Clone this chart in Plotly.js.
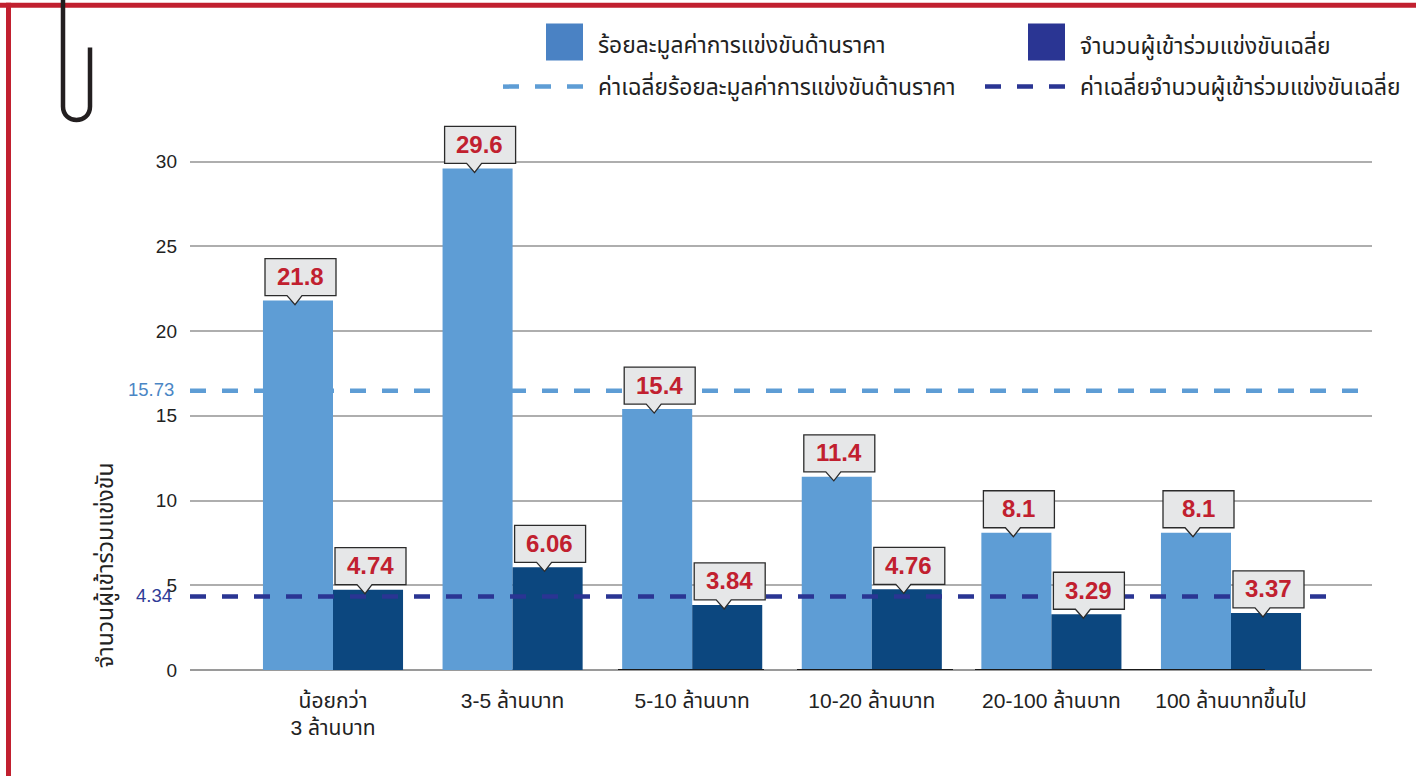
<!DOCTYPE html>
<html><head><meta charset="utf-8">
<script src="https://cdn.plot.ly/plotly-3.0.0.min.js"></script>
<style>html,body{margin:0;padding:0;background:#fff;overflow:hidden}#c{width:1416px;height:776px}</style>
</head><body><div id="c"></div>
<script>
const categories = ['น้อยกว่า<br>3 ล้านบาท','3-5 ล้านบาท','5-10 ล้านบาท','10-20 ล้านบาท','20-100 ล้านบาท','100 ล้านบาทขึ้นไป'];
const pricePct = [21.8,29.6,15.4,11.4,8.1,8.1];
const bidders = [4.74,6.06,3.84,4.76,3.29,3.37];
const yTicks = [0,5,10,15,20,25,30];
const avgPriceLabel = '15.73';
const avgPriceDrawn = 16.48;
const avgBidders = 4.34;
const seriesNames = ['ร้อยละมูลค่าการแข่งขันด้านราคา','จำนวนผู้เข้าร่วมแข่งขันเฉลี่ย','ค่าเฉลี่ยร้อยละมูลค่าการแข่งขันด้านราคา','ค่าเฉลี่ยจำนวนผู้เข้าร่วมแข่งขันเฉลี่ย'];
const yTitle = 'จำนวนผู้เข้าร่วมแข่งขัน';

const FONT = '"Liberation Sans","Noto Sans Thai","Noto Sans",sans-serif';
const yMax = 36;
const L=190,R=1372,B=670,UNIT=508/30,T=B-yMax*UNIT,W=1416,H=776;
const RED='#c1202f',LIGHT='#5e9dd5',DARK='#0c477f',NAVY='#2a3593';
const px=x=>(x-L)/(R-L), py=y=>(B-y)/(B-T);
const idx=categories.map((_,i)=>i);
const off=35/179.6;

const pageShape=(path,o)=>Object.assign({type:'path',xref:'paper',yref:'paper',xsizemode:'pixel',ysizemode:'pixel',xanchor:px(0),yanchor:py(0),path,layer:'above'},o);
const rectP=(x0,y0,x1,y1,fill)=>({type:'rect',xref:'paper',yref:'paper',x0:px(x0),x1:px(x1),y0:py(y0),y1:py(y1),fillcolor:fill,line:{width:0},layer:'above'});
const dash=(x0,x1,y,c)=>({type:'line',xref:'paper',yref:'paper',x0:px(x0),x1:px(x1),y0:py(y),y1:py(y),line:{color:c,width:4.5,dash:'16px,16px'},layer:'above'});
const base=(x0,x1)=>({type:'line',xref:'paper',yref:'y',x0:px(x0),x1:px(x1),y0:0,y1:0,line:{color:'#1a1a1a',width:2},layer:'above'});

function callout(x,v){
  return {type:'path',xref:'x',yref:'y',xsizemode:'pixel',ysizemode:'pixel',xanchor:x,yanchor:v,layer:'above',
    path:'M -33 42 L 38 42 L 38 5 L 4 5 L -3 -4 L -11 5 L -33 5 Z',fillcolor:'#e6e7e8',line:{color:'#2b2b2b',width:1.3}};
}
const shapes=[
  rectP(0,3.3,W,8.3,RED), rectP(6,3.3,11,H,RED),
  pageShape('M 63 0 L 63 -107 C 63 -125 90 -125 90 -107 L 90 -48',{line:{color:'#231f20',width:4.5},fillcolor:'rgba(0,0,0,0)'}),
  rectP(546,24,583,61,'#4a82c4'), rectP(1028,24,1065,61,NAVY),
  dash(503,584,87,LIGHT), dash(985,1066,87,NAVY),
  base(618,764), base(797,953), base(975,1265),
  {type:'line',xref:'paper',yref:'y',x0:0,x1:px(1362),y0:avgPriceDrawn,y1:avgPriceDrawn,line:{color:LIGHT,width:4.5,dash:'16px,16px'},layer:'above'},
  {type:'line',xref:'paper',yref:'y',x0:0,x1:px(1332),y0:avgBidders,y1:avgBidders,line:{color:NAVY,width:4.5,dash:'16px,16px'},layer:'above'},
];
const ann=[];
const pageText=(x,y,text,o)=>Object.assign({xref:'paper',yref:'paper',x:px(x),y:py(y),text,showarrow:false,xanchor:'left',yanchor:'middle',font:{family:FONT,size:22.8,color:'#222'}},o);
ann.push(pageText(596,46,seriesNames[0]),pageText(1078,46,seriesNames[1]),pageText(596,87,seriesNames[2]),pageText(1078,87,seriesNames[3]));
ann.push(pageText(176,390,avgPriceLabel,{xanchor:'right',font:{family:FONT,size:18.5,color:'#4a86c5'}}));
ann.push(pageText(174,596,String(avgBidders),{xanchor:'right',font:{family:FONT,size:18.5,color:'#2e3b97'}}));
ann.push(pageText(106,566,yTitle,{xanchor:'center',textangle:-90,font:{family:FONT,size:23,color:'#222'}}));
function label(x,v){
  shapes.push(callout(x,v));
  ann.push({xref:'x',yref:'y',x,y:v,text:'<b>'+v+'</b>',showarrow:false,xanchor:'center',yanchor:'middle',xshift:2,yshift:24,
    font:{family:FONT,size:24,color:RED}});
}
idx.forEach(i=>{label(i-off,pricePct[i]);label(i+off,bidders[i]);});

const traces=[
 {type:'bar',name:seriesNames[0],x:idx,y:pricePct,marker:{color:LIGHT,line:{width:0}},hoverinfo:'y'},
 {type:'bar',name:seriesNames[1],x:idx,y:bidders,marker:{color:DARK,line:{width:0}},hoverinfo:'y'}
];
const layout={
  width:W,height:H,margin:{l:L,r:W-R,t:T,b:H-B,pad:0},paper_bgcolor:'#fff',plot_bgcolor:'#fff',
  showlegend:false,barmode:'group',bargap:0.22,bargroupgap:0,
  font:{family:FONT,color:'#222'},
  xaxis:{type:'linear',range:[-(333-L)/179.6,(R-333)/179.6],tickmode:'array',tickvals:idx,ticktext:categories,showgrid:false,zeroline:false,
    showline:false,ticks:'',ticklabelstandoff:16,tickfont:{family:FONT,size:21,color:'#222'},automargin:false},
  yaxis:{range:[0,yMax],tickmode:'array',tickvals:yTicks,ticktext:yTicks.map(String),showgrid:true,gridcolor:'#aeaeae',gridwidth:2,zeroline:true,zerolinecolor:'#9a9a9a',zerolinewidth:2,
    showline:false,ticks:'',ticklabelstandoff:12,tickfont:{family:FONT,size:19,color:'#222'},automargin:false},
  shapes,annotations:ann
};
Plotly.newPlot('c',traces,layout,{displayModeBar:false,responsive:false});
</script></body></html>
